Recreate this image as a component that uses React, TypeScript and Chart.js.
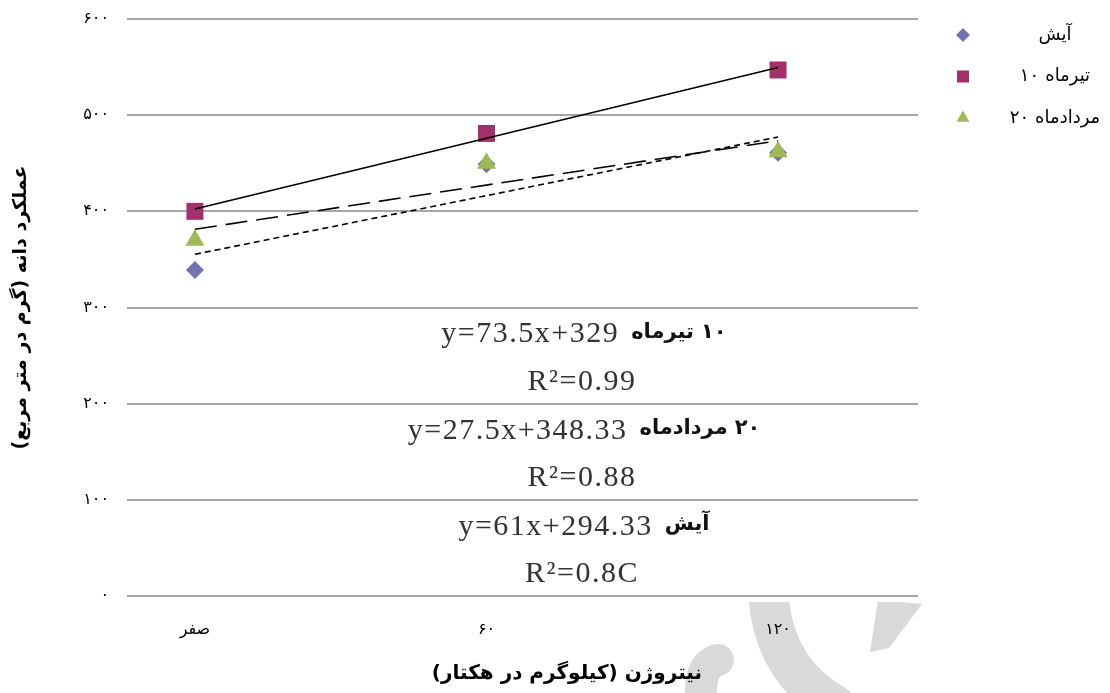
import React, { useEffect, useRef } from 'react';
import { Chart, registerables } from 'chart.js';
import { drawPoint } from 'chart.js/helpers';

Chart.register(...registerables);

// ---- data ----
const categories = ['صفر', '۶۰', '۱۲۰'];
const xPositions = [1, 2, 3];
const seriesNames = ['آیش', '۱۰ تیرماه', '۲۰ مردادماه'];
const legendNumbers = ['', '۱۰', '۲۰'];
const legendWords = ['آیش', 'تیرماه', 'مردادماه'];
const ayeshValues = [339, 449, 461];
const tirValues = [400, 481, 547];
const mordadValues = [370, 450, 462];
const yTickValues = [0, 100, 200, 300, 400, 500, 600];
const yTickLabels = ['۰', '۱۰۰', '۲۰۰', '۳۰۰', '۴۰۰', '۵۰۰', '۶۰۰'];
const equationTexts = ['y=73.5x+329', 'y=27.5x+348.33', 'y=61x+294.33'];
const equationWords = ['تیرماه', 'مردادماه', 'آیش'];
const equationNumbers = ['۱۰', '۲۰', ''];
const rSquaredTexts = ['R²=0.99', 'R²=0.88', 'R²=0.8C'];
const yTitle = 'عملکرد دانه (گرم در متر مربع)';
const xTitle = 'نیتروژن (کیلوگرم در هکتار)';

// ---- styles ----
const seriesStyles = [
  { pointStyle: 'rectRot', color: '#7373b3', radius: 9, legendRadius: 7, dash: [6, 4] },
  { pointStyle: 'rect', color: '#a2306a', radius: 12, legendRadius: 8.5, dash: [] as number[] },
  { pointStyle: 'triangle', color: '#a0b958', radius: 11, legendRadius: 7.5, dash: [22, 9] },
];
const persianFont = '"DejaVu Sans", sans-serif';
const serifFont = '"Liberation Serif", "Times New Roman", serif';

function fitEnds(xs: number[], ys: number[]) {
  const n = xs.length;
  const mx = xs.reduce((a, b) => a + b, 0) / n;
  const my = ys.reduce((a, b) => a + b, 0) / n;
  let sxy = 0;
  let sxx = 0;
  for (let i = 0; i < n; i++) {
    sxy += (xs[i] - mx) * (ys[i] - my);
    sxx += (xs[i] - mx) * (xs[i] - mx);
  }
  const slope = sxy / sxx;
  const icpt = my - slope * mx;
  return [
    { x: xs[0], y: icpt + slope * xs[0] },
    { x: xs[n - 1], y: icpt + slope * xs[n - 1] },
  ];
}

const seriesValues = [ayeshValues, tirValues, mordadValues];

const watermarkPlugin = {
  id: 'watermark',
  beforeDraw(chart: any) {
    const ctx = chart.ctx;
    ctx.save();
    ctx.beginPath();
    ctx.rect(0, 602, 1110, 100);
    ctx.clip();
    ctx.strokeStyle = '#d9d9d9';
    ctx.fillStyle = '#d9d9d9';
    ctx.lineCap = 'round';
    ctx.lineWidth = 40;
    ctx.beginPath();
    ctx.moveTo(768, 590);
    ctx.quadraticCurveTo(772, 670, 835, 705);
    ctx.stroke();
    ctx.lineWidth = 32;
    ctx.beginPath();
    ctx.moveTo(702, 705);
    ctx.quadraticCurveTo(697, 665, 718, 660);
    ctx.stroke();
    ctx.beginPath();
    ctx.moveTo(878, 600);
    ctx.lineTo(922, 604);
    ctx.lineTo(889, 648);
    ctx.lineTo(870, 652);
    ctx.closePath();
    ctx.fill();
    ctx.restore();
  },
};

const legendPlugin = {
  id: 'sideLegend',
  afterDraw(chart: any) {
    const ctx = chart.ctx;
    ctx.save();
    ctx.direction = 'ltr';
    seriesNames.forEach((_name, i) => {
      const st = seriesStyles[i];
      const y = 35 + i * 41.5;
      ctx.fillStyle = st.color;
      ctx.strokeStyle = st.color;
      drawPoint(ctx, { pointStyle: st.pointStyle, radius: st.legendRadius, rotation: 0, borderWidth: 0 } as any, 963, y);
      ctx.fillStyle = '#000';
      ctx.font = '18px ' + persianFont;
      ctx.textBaseline = 'middle';
      const wNum = legendNumbers[i] ? ctx.measureText(legendNumbers[i]).width : 0;
      const wWord = ctx.measureText(legendWords[i]).width;
      const gap = legendNumbers[i] ? 6 : 0;
      const start = 1055 - (wNum + gap + wWord) / 2;
      ctx.textAlign = 'left';
      if (legendNumbers[i]) ctx.fillText(legendNumbers[i], start, y);
      ctx.fillText(legendWords[i], start + wNum + gap, y);
    });
    ctx.restore();
  },
};

const textPlugin = {
  id: 'equations',
  afterDraw(chart: any) {
    const ctx = chart.ctx;
    const ys = chart.scales.y;
    const area = chart.chartArea;
    const cx = 584;
    ctx.save();
    ctx.direction = 'ltr';
    ctx.textBaseline = 'middle';
    const bands = [300, 200, 100];
    const eqFont = '30px ' + serifFont;
    const faFont = 'bold 21px ' + persianFont;
    equationTexts.forEach((eq, i) => {
      const top = ys.getPixelForValue(bands[i]);
      const bottom = ys.getPixelForValue(bands[i] - 100);
      ctx.font = eqFont;
      (ctx as any).letterSpacing = '1.5px';
      const w1 = ctx.measureText(eq).width;
      (ctx as any).letterSpacing = '0px';
      ctx.font = faFont;
      const w2 = ctx.measureText(equationWords[i]).width;
      const w3 = equationNumbers[i] ? ctx.measureText(equationNumbers[i]).width : 0;
      const gap = 12;
      const gap2 = equationNumbers[i] ? 7 : 0;
      const start = cx - (w1 + gap + w2 + gap2 + w3) / 2;
      ctx.textAlign = 'left';
      ctx.fillStyle = '#333';
      ctx.font = eqFont;
      (ctx as any).letterSpacing = '1.5px';
      ctx.fillText(eq, start, top + 27);
      (ctx as any).letterSpacing = '0px';
      ctx.fillStyle = '#111';
      ctx.font = faFont;
      ctx.fillText(equationWords[i], start + w1 + gap, top + 25);
      if (equationNumbers[i]) ctx.fillText(equationNumbers[i], start + w1 + gap + w2 + gap2, top + 25);
      ctx.fillStyle = '#333';
      ctx.font = eqFont;
      (ctx as any).letterSpacing = '1.5px';
      ctx.textAlign = 'center';
      ctx.fillText(rSquaredTexts[i], cx - 2, bottom - 22);
      (ctx as any).letterSpacing = '0px';
    });
    // x-axis title
    ctx.font = 'bold 20px ' + persianFont;
    ctx.fillStyle = '#000';
    ctx.textAlign = 'right';
    ctx.fillText(xTitle, 702, area.bottom + 78);
    ctx.restore();
  },
};

export default function App() {
  const canvasRef = useRef<HTMLCanvasElement>(null);

  useEffect(() => {
    if (!canvasRef.current) return;
    const pointSets = seriesNames.map((name, i) => ({
      label: name,
      data: xPositions.map((x, j) => ({ x, y: seriesValues[i][j] })),
      pointStyle: seriesStyles[i].pointStyle,
      pointRadius: seriesStyles[i].radius,
      pointBackgroundColor: seriesStyles[i].color,
      pointBorderColor: seriesStyles[i].color,
      pointBorderWidth: 0,
      showLine: false,
      order: 10 - i,
    }));
    const trendSets = seriesNames.map((name, i) => ({
      label: name + ' trend',
      data: fitEnds(xPositions, seriesValues[i]),
      showLine: true,
      borderColor: '#000',
      borderWidth: 1.6,
      borderDash: seriesStyles[i].dash,
      pointRadius: 0,
      fill: false,
      order: 0,
    }));

    const chart = new Chart(canvasRef.current, {
      type: 'scatter',
      data: { datasets: [...pointSets, ...trendSets] as any },
      options: {
        responsive: false,
        animation: false,
        layout: { padding: { top: 19, right: 192, left: 0, bottom: 0 } },
        plugins: { legend: { display: false }, tooltip: { enabled: false } },
        scales: {
          x: {
            type: 'linear',
            min: 0.767,
            max: 3.48,
            afterBuildTicks: (s: any) => {
              s.ticks = xPositions.map((v) => ({ value: v }));
            },
            afterFit: (s: any) => {
              s.height = 97;
              s.paddingLeft = 0;
              s.paddingRight = 0;
            },
            ticks: {
              callback: (_v: any, idx: number) => categories[idx],
              font: { family: persianFont, size: 16 },
              color: '#000',
              padding: 24,
              maxRotation: 0,
              autoSkip: false,
            },
            grid: { display: false, drawTicks: false },
            border: { display: false },
            title: { display: false, text: xTitle },
          },
          y: {
            min: 0,
            max: 600,
            afterBuildTicks: (s: any) => {
              s.ticks = yTickValues.map((v) => ({ value: v }));
            },
            afterFit: (s: any) => {
              s.width = 127;
              s.paddingTop = 0;
              s.paddingBottom = 0;
            },
            ticks: {
              callback: (_v: any, idx: number) => yTickLabels[idx],
              font: { family: persianFont, size: 16 },
              color: '#000',
              padding: 18,
            },
            grid: { color: '#a6a6a6', lineWidth: 2, drawTicks: false },
            border: { display: false },
            title: {
              display: true,
              text: yTitle,
              color: '#000',
              font: { family: persianFont, size: 19, weight: 'bold' },
              padding: { top: 10, bottom: 0 },
            },
          },
        },
      },
      plugins: [watermarkPlugin, legendPlugin, textPlugin],
    });
    return () => chart.destroy();
  }, []);

  return (
    <div style={{ position: 'absolute', left: 0, top: 0, width: 1110, height: 693, background: '#fff' }}>
      <canvas ref={canvasRef} width={1110} height={693} />
    </div>
  );
}
